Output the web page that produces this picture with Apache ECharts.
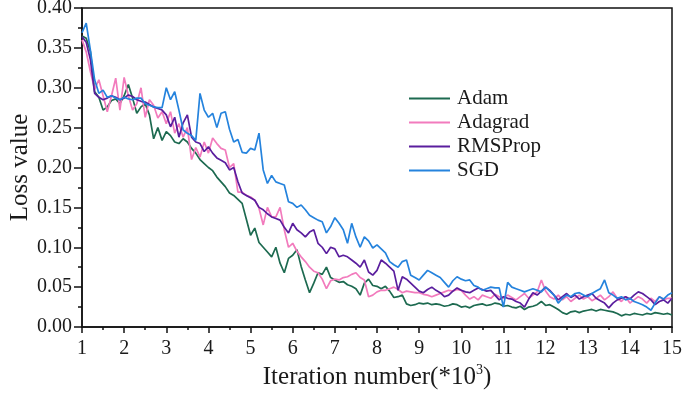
<!DOCTYPE html>
<html>
<head>
<meta charset="utf-8">
<script src="https://cdn.jsdelivr.net/npm/echarts@6/dist/echarts.min.js"></script>
<style>
  html, body { margin: 0; padding: 0; background: #fff; }
  #chart { width: 684px; height: 394px; }
</style>
</head>
<body>
<div id="chart"></div>
<script>
// 迭代步: 1.0 ~ 15.0, 每 0.1 一个点
var iterStart = 1, iterStep = 0.1;
var xTicks = [1, 2, 3, 4, 5, 6, 7, 8, 9, 10, 11, 12, 13, 14, 15];
var yTicks = [0, 0.05, 0.10, 0.15, 0.20, 0.25, 0.30, 0.35, 0.40];
var seriesNames = ['Adam', 'Adagrad', 'RMSProp', 'SGD'];

var adam = [
    .365, .362, .345, .295, .288, .272, .276, .284, .286, .280,
    .290, .304, .287, .268, .276, .280, .266, .236, .250, .234,
    .245, .240, .232, .230, .236, .232, .224, .218, .210, .205,
    .200, .196, .188, .182, .176, .168, .165, .160, .155, .135,
    .115, .124, .106, .100, .094, .088, .100, .080, .068, .086,
    .090, .097, .076, .059, .043, .055, .068, .066, .075, .062,
    .059, .056, .057, .053, .051, .048, .040, .055, .060, .052,
    .051, .048, .051, .045, .037, .038, .040, .029, .027, .028,
    .030, .029, .030, .028, .029, .028, .026, .027, .029, .028,
    .025, .026, .024, .027, .028, .029, .027, .028, .030, .029,
    .026, .027, .025, .024, .026, .022, .025, .026, .028, .032,
    .027, .028, .025, .022, .018, .016, .019, .020, .018, .020,
    .021, .022, .020, .022, .021, .020, .019, .017, .014, .016,
    .015, .017, .016, .015, .017, .016, .018, .017, .016, .017,
    .015
];
var adagrad = [
    .360, .345, .320, .298, .310, .290, .270, .290, .312, .272,
    .313, .290, .272, .280, .300, .263, .285, .278, .262, .270,
    .255, .270, .243, .255, .238, .250, .210, .225, .213, .232,
    .218, .237, .230, .224, .222, .200, .205, .169, .169, .165,
    .163, .159, .149, .128, .150, .138, .138, .150, .122, .100,
    .105, .095, .088, .082, .075, .070, .068, .060, .048, .058,
    .060, .059, .062, .063, .066, .068, .062, .059, .038, .040,
    .044, .046, .046, .048, .050, .047, .043, .045, .044, .043,
    .043, .041, .040, .038, .040, .042, .044, .046, .045, .047,
    .046, .040, .035, .038, .034, .040, .038, .036, .041, .038,
    .036, .040, .037, .034, .038, .042, .036, .040, .044, .059,
    .045, .038, .035, .040, .034, .038, .032, .036, .040, .035,
    .038, .033, .036, .040, .034, .038, .044, .036, .032, .038,
    .030, .034, .038, .035, .030, .036, .032, .038, .034, .036,
    .036
];
var rmsprop = [
    .364, .357, .335, .293, .288, .285, .287, .290, .288, .285,
    .287, .291, .289, .285, .283, .282, .279, .276, .274, .272,
    .266, .251, .263, .238, .256, .266, .238, .232, .230, .220,
    .226, .218, .212, .209, .206, .197, .200, .182, .168, .165,
    .162, .159, .150, .147, .142, .138, .136, .134, .125, .118,
    .130, .122, .118, .113, .119, .122, .105, .100, .092, .100,
    .098, .088, .090, .088, .084, .080, .075, .084, .069, .065,
    .071, .084, .080, .075, .070, .046, .063, .060, .055, .050,
    .045, .043, .047, .050, .046, .043, .038, .040, .045, .049,
    .046, .044, .043, .046, .049, .047, .045, .046, .040, .034,
    .038, .036, .035, .032, .030, .025, .035, .043, .040, .045,
    .050, .046, .040, .034, .038, .042, .037, .040, .035, .038,
    .040, .042, .036, .033, .030, .024, .030, .034, .036, .038,
    .035, .040, .044, .042, .038, .034, .028, .032, .034, .030,
    .036
];
var sgd = [
    .369, .381, .347, .310, .293, .297, .288, .290, .287, .285,
    .288, .286, .285, .287, .287, .280, .278, .276, .275, .275,
    .300, .285, .295, .272, .247, .243, .240, .234, .293, .272,
    .263, .268, .250, .268, .270, .248, .232, .235, .219, .218,
    .224, .222, .243, .197, .180, .190, .182, .180, .178, .157,
    .155, .150, .153, .147, .140, .137, .134, .132, .118, .126,
    .137, .130, .122, .105, .130, .113, .100, .113, .108, .099,
    .103, .098, .093, .082, .078, .075, .082, .084, .065, .062,
    .059, .065, .071, .068, .065, .062, .056, .050, .058, .063,
    .060, .058, .059, .052, .050, .046, .048, .050, .049, .049,
    .025, .056, .050, .048, .046, .044, .046, .048, .046, .044,
    .050, .045, .040, .030, .036, .040, .038, .042, .043, .040,
    .038, .042, .045, .048, .059, .043, .040, .036, .038, .034,
    .036, .032, .030, .028, .025, .021, .030, .038, .035, .040,
    .043
];
var seriesColors = ['#1d6a50', '#f27bbd', '#5a1e9e', '#2583dd'];

var chart = echarts.init(document.getElementById('chart'));
var fontFamily = '"Liberation Serif", "Times New Roman", serif';

var toPairs = function(values) {
    var list = [];
    for (var i = 0; i < values.length; i++) {
        list.push([+(iterStart + i * iterStep).toFixed(1), values[i]]);
    }
    return list;
};

var allValues = [adam, adagrad, rmsprop, sgd];
var seriesList = [];
for (var s = 0; s < seriesNames.length; s++) {
    seriesList.push({
        name: seriesNames[s],
        type: 'line',
        symbol: 'none',
        lineStyle: { width: 1.7, color: seriesColors[s] },
        itemStyle: { color: seriesColors[s] },
        data: toPairs(allValues[s])
    });
}

var option = {
    animation: false,
    backgroundColor: '#fff',
    grid: {
        left: 82,
        right: 12,
        top: 8,
        bottom: 67,
        outerBoundsMode: 'none',
        show: true,
        borderColor: '#111',
        borderWidth: 1.5
    },
    legend: {
        orient: 'vertical',
        left: 404,
        top: 83,
        icon: 'rect',
        itemWidth: 41,
        itemHeight: 2,
        itemGap: 3,
        data: seriesNames,
        textStyle: { fontFamily: fontFamily, fontSize: 21, color: '#1a1a1a', padding: [0, 0, 0, 2] }
    },
    xAxis: {
        type: 'value',
        min: xTicks[0],
        max: xTicks[xTicks.length - 1],
        interval: 1,
        name: '{t|Iteration number(*10}{s|3}{t|)}',
        nameLocation: 'middle',
        nameGap: 36,
        nameMoveOverlap: false,
        nameTextStyle: {
            rich: {
                t: { fontFamily: fontFamily, fontSize: 25, color: '#1a1a1a', lineHeight: 28 },
                s: { fontFamily: fontFamily, fontSize: 14, color: '#1a1a1a', verticalAlign: 'top', lineHeight: 28, padding: [0, 0, 11, 0] }
            }
        },
        axisLine: { lineStyle: { color: '#111', width: 1.5 } },
        axisTick: { inside: false, length: 6, lineStyle: { color: '#111', width: 1.5 } },
        minorTick: { show: true, splitNumber: 2, length: 3, lineStyle: { color: '#111', width: 1.5 } },
        axisLabel: { fontFamily: fontFamily, fontSize: 20, color: '#1a1a1a', margin: 12 },
        splitLine: { show: false }
    },
    yAxis: {
        type: 'value',
        min: yTicks[0],
        max: yTicks[yTicks.length - 1],
        interval: 0.05,
        name: 'Loss value',
        nameLocation: 'middle',
        nameGap: 49,
        nameMoveOverlap: false,
        nameTextStyle: { fontFamily: fontFamily, fontSize: 25, color: '#1a1a1a' },
        axisLine: { show: true, lineStyle: { color: '#111', width: 1.5 } },
        axisTick: { show: true, inside: false, length: 8, lineStyle: { color: '#111', width: 1.5 } },
        minorTick: { show: true, splitNumber: 2, length: 4, lineStyle: { color: '#111', width: 1.5 } },
        axisLabel: {
            fontFamily: fontFamily, fontSize: 20, color: '#1a1a1a', margin: 10,
            formatter: function(v) { return v.toFixed(2); }
        },
        splitLine: { show: false }
    },
    series: seriesList
};

chart.setOption(option);
</script>
</body>
</html>
